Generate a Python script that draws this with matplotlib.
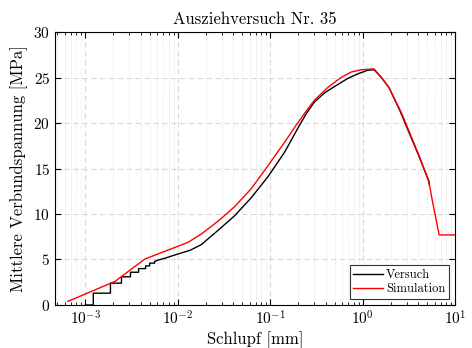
import matplotlib
matplotlib.use("Agg")
import matplotlib.pyplot as plt
from matplotlib.ticker import LogLocator, MultipleLocator

plt.rcParams['font.family'] = ['cmr10', 'DejaVu Serif']
plt.rcParams['mathtext.fontset'] = 'cm'
plt.rcParams['axes.formatter.use_mathtext'] = True

# Versuch (measured), slip in mm, bond stress in MPa
versuch_x = [1.0e-3, 1.22e-3, 1.22e-3, 1.87e-3, 1.87e-3, 2.46e-3, 2.46e-3,
             3.08e-3, 3.08e-3, 3.77e-3, 3.77e-3, 4.49e-3, 4.49e-3, 4.96e-3,
             4.96e-3, 5.62e-3, 5.62e-3, 6.2e-3, 7.3e-3, 1.0e-2, 1.35e-2,
             1.795e-2, 2.72e-2, 4.11e-2, 6.24e-2, 9.44e-2, 0.143, 0.198,
             0.244, 0.300, 0.385, 0.493, 0.689, 0.883, 1.13, 1.325, 1.577,
             1.92, 2.51, 4.07, 5.2, 5.21]
versuch_y = [0.0, 0.0, 1.3, 1.3, 2.4, 2.4, 3.1, 3.1, 3.6, 3.6, 4.0, 4.0,
             4.3, 4.3, 4.6, 4.6, 4.8, 4.95, 5.15, 5.6, 6.0, 6.63, 8.2,
             9.8, 11.8, 14.1, 16.8, 19.4, 21.0, 22.3, 23.3, 24.0, 24.9,
             25.4, 25.8, 25.85, 25.05, 23.9, 21.4, 16.3, 13.6, 13.3]

# Simulation
sim_x = [6.5e-4, 2.1e-3, 4.4e-3, 1.3e-2, 1.795e-2, 2.72e-2, 4.11e-2,
         6.24e-2, 9.44e-2, 0.143, 0.198, 0.244, 0.300, 0.418, 0.582, 0.748,
         0.96, 1.325, 1.577, 1.92, 2.51, 2.65, 4.07, 5.2, 5.62, 6.7, 10.0]
sim_y = [0.4, 2.6, 5.05, 6.9, 7.8, 9.2, 10.8, 12.8, 15.3, 17.9, 20.0,
         21.3, 22.5, 23.9, 25.0, 25.6, 25.85, 25.95, 25.05, 23.9, 21.5,
         21.0, 16.4, 13.5, 11.6, 7.7, 7.7]

fig = plt.figure(figsize=(4.72, 3.48), dpi=100)
ax = fig.add_axes([0.1165, 0.1236, 0.848, 0.7844])

ax.semilogx(versuch_x, versuch_y, color='k', lw=1.0, label='Versuch')
ax.semilogx(sim_x, sim_y, color='r', lw=1.0, label='Simulation')

ax.set_xlim(4.7e-4, 10)
ax.set_ylim(0, 30)
ax.yaxis.set_major_locator(MultipleLocator(5))
ax.xaxis.set_major_locator(LogLocator(base=10, numticks=10))
ax.xaxis.set_minor_locator(LogLocator(base=10, subs=range(2, 10), numticks=20))

ax.grid(True, which='major', ls=(0, (5, 3)), color='#d9d9d9', lw=0.8)
ax.grid(True, which='minor', axis='x', ls=':', color='#e0e0e0', lw=0.7)
ax.set_axisbelow(True)

ax.tick_params(which='both', direction='in', top=True, right=True, labelsize=11)
ax.tick_params(which='major', length=4)
ax.tick_params(which='minor', length=2)
for s in ax.spines.values():
    s.set_linewidth(0.8)

ax.set_title('Ausziehversuch Nr. 35', fontsize=12, pad=6)
ax.set_xlabel('Schlupf [mm]', fontsize=12, labelpad=2)
ax.set_ylabel('Mittlere Verbundspannung [MPa]', fontsize=12, labelpad=4)

leg = ax.legend(loc='lower right', fontsize=9, fancybox=False, framealpha=1,
                edgecolor='#333333', borderpad=0.3, labelspacing=0.15,
                handlelength=2.4, handletextpad=0.2, borderaxespad=0.5)
leg.get_frame().set_linewidth(0.8)

fig.savefig('out.png', dpi=100)
